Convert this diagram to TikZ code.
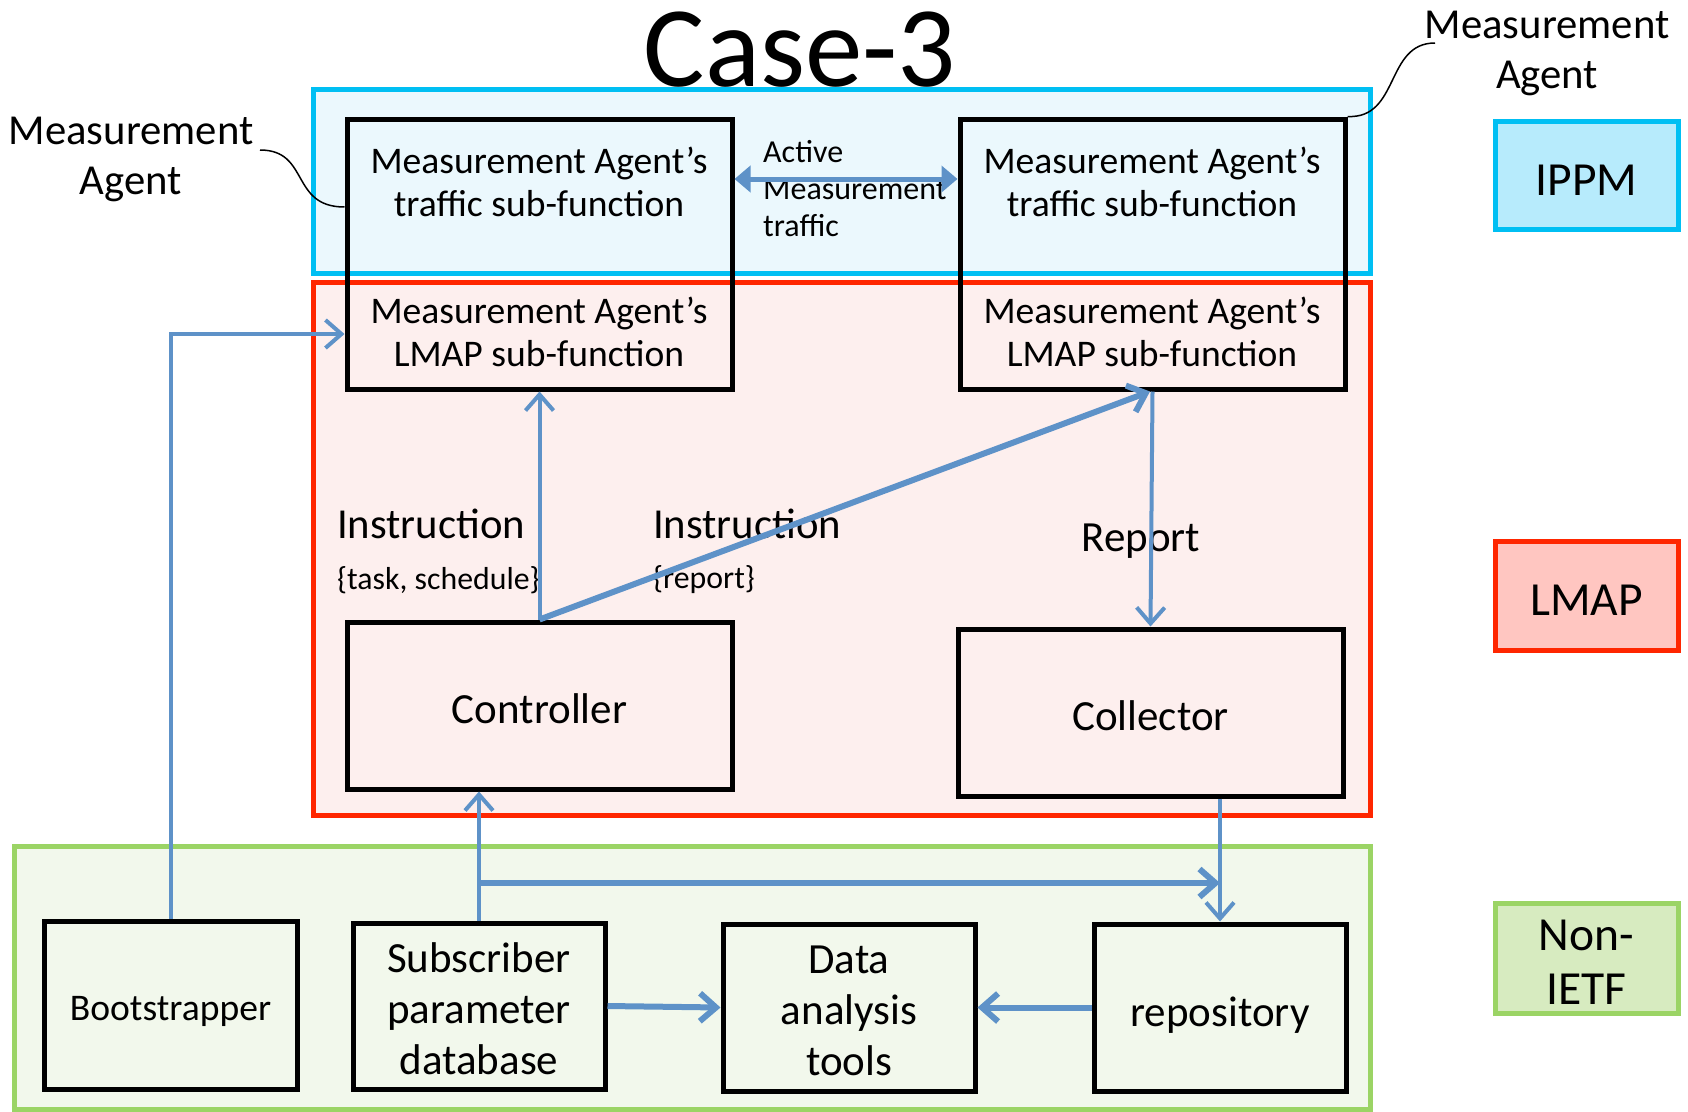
\documentclass[tikz,border=0pt]{standalone}
\usepackage{fontspec}
\setmainfont{Carlito}
\usetikzlibrary{arrows.meta}

\definecolor{ippmline}{HTML}{00BFF3}
\definecolor{ippmfill}{HTML}{EBF8FD}
\definecolor{ippmkey}{HTML}{B7EBFC}
\definecolor{lmapline}{HTML}{FF2600}
\definecolor{lmapfill}{HTML}{FDEFEE}
\definecolor{lmapkey}{HTML}{FFC6C1}
\definecolor{ietfline}{HTML}{9BD465}
\definecolor{ietffill}{HTML}{F2F8EC}
\definecolor{ietfkey}{HTML}{D7EBC0}
\definecolor{flowblue}{HTML}{5E92C8}

\newcommand\fsz[2]{\fontsize{#1}{#2}\selectfont}

\begin{document}
\begin{tikzpicture}[x=1pt,y=-1pt,
  area/.style={draw=#1line, fill=#1fill, line width=5pt, inner sep=0pt},
  keybox/.style={draw=#1line, fill=#1key, line width=5pt, inner sep=0pt,
                 minimum width=183pt},
  unit/.style={draw=black, line width=5pt, inner sep=0pt},
  lbl/.style={inner sep=0pt, align=center},
  big/.style={lbl, font=\fsz{43}{51}},
  matext/.style={lbl, font=\fsz{37.6}{43}},
  flow/.style={draw=flowblue, line width=4pt,
               -{Straight Barb[length=16pt,width=28pt]}},
  flowbold/.style={flow, line width=6pt},
  twoway/.style={draw=flowblue, line width=5pt,
                 {Triangle[length=16pt,width=26pt]}-{Triangle[length=16pt,width=26pt]}}
]
\useasboundingbox (0,0) rectangle (1688,1111);

% title
\node[lbl, font=\fsz{115}{120}] (title) at (800,50) {Case-3};

% working-group areas
\node[area=ippm, minimum width=1057pt, minimum height=184pt] (ippm) at (841.5,181) {};
\node[area=lmap, minimum width=1057pt, minimum height=533pt] (lmap) at (841.5,548.5) {};
\node[area=ietf, minimum width=1356pt, minimum height=263pt] (ietf) at (692,977.5) {};

% legend
\node[keybox=ippm, minimum height=108pt] (keyippm) at (1586.5,175) {};
\node[keybox=lmap, minimum height=109pt] (keylmap) at (1586.5,595.5) {};
\node[keybox=ietf, minimum height=110pt] (keyietf) at (1586.5,958) {};
\node[lbl, font=\fsz{47.5}{54}] (keyippmT) at (1586.5,180.5) {IPPM};
\node[lbl, font=\fsz{47.5}{54}] (keylmapT) at (1586.5,600) {LMAP};
\node[lbl, font=\fsz{47.5}{54}] (keyietfT) at (1586.5,962.5) {Non-\\IETF};

% measurement agents
\node[unit, minimum width=385pt, minimum height=270pt] (maL) at (539.5,254) {};
\node[unit, minimum width=385pt, minimum height=270pt] (maR) at (1152.5,254) {};
\node[matext] (maLt) at (539,182) {Measurement Agent’s\\traffic sub-function};
\node[matext] (maLl) at (539,332) {Measurement Agent’s\\LMAP sub-function};
\node[matext] (maRt) at (1152,182) {Measurement Agent’s\\traffic sub-function};
\node[matext] (maRl) at (1152,332) {Measurement Agent’s\\LMAP sub-function};

% LMAP components
\node[unit, minimum width=385pt, minimum height=167pt] (ctrl) at (539.5,705.5) {};
\node[unit, minimum width=385pt, minimum height=167pt] (coll) at (1150.5,712.5) {};
\node[big] (ctrlT) at (539.5,709) {Controller};
\node[big] (collT) at (1150.5,716) {Collector};

% non-IETF components
\node[unit, minimum width=253pt, minimum height=168pt] (boot) at (170.5,1005) {};
\node[unit, minimum width=252pt, minimum height=166pt] (subs) at (479,1006) {};
\node[unit, minimum width=252pt, minimum height=167pt] (data) at (849,1007.5) {};
\node[unit, minimum width=252pt, minimum height=167pt] (repo) at (1220,1007.5) {};
\node[lbl, font=\fsz{37.6}{44}] (bootT) at (170.5,1011.5) {Bootstrapper};
\node[big] (subsT) at (479,1008.5) {Subscriber\\parameter\\database};
\node[big] (dataT) at (849,1011) {Data\\analysis\\tools};
\node[big] (repoT) at (1220,1015) {repository};

% callouts naming the agents
\node[lbl, font=\fsz{42.7}{50}] (nameL) at (131,159.5) {Measurement\\Agent};
\node[lbl, font=\fsz{42.7}{50}] (nameR) at (1547,53) {Measurement\\Agent};
\coordinate (nameLend) at (260,150);
\coordinate (nameRend) at (1435,43);
\draw[line width=1.5pt] (nameLend) .. controls (310,150) and (290,207) .. (maL.west |- 0,207);
\draw[line width=1.5pt] (nameRend) .. controls (1385,43) and (1400,119) .. (maR.north east);

% flow labels
\node[lbl, anchor=west, align=left, font=\fsz{32}{37}] (active) at (763,189) {Active\\Measurement\\traffic};
\node[lbl, anchor=west, font=\fsz{42.7}{50}] (instrA) at (337,524) {Instruction};
\node[lbl, anchor=west, font=\fsz{31.8}{36}] (instrAsub) at (337,580) {\{task, schedule\}};
\node[lbl, anchor=west, font=\fsz{42.7}{50}] (instrB) at (653,524) {Instruction};
\node[lbl, anchor=west, font=\fsz{31.8}{36}] (instrBsub) at (653,580) {\{report\}};
\node[lbl, font=\fsz{43}{50}] (report) at (1141,541) {Report};

% connectors
\draw[twoway] (maL.east |- 0,179) -- (maR.west |- 0,179);
\draw[flow] (boot.north) |- (maL.west |- 0,334);
\draw[flow] (ctrl.north) -- (ctrl.north |- maL.south);
\draw[flowbold] (ctrl.north) -- (maR.south -| 1150,0);
\draw[flow] (maR.south) -- (coll.north);
\draw[flow] (subs.north) -- (subs.north |- ctrl.south);
\coordinate (split) at (subs.north |- 0,883);
\draw[flowbold] (split) -- (split -| repo.north);
\draw[flow] (repo.north |- coll.south) -- (repo.north);
\draw[flowbold] (subs.east) -- (data.west);
\draw[flowbold] (repo.west) -- (data.east);
\end{tikzpicture}
\end{document}
